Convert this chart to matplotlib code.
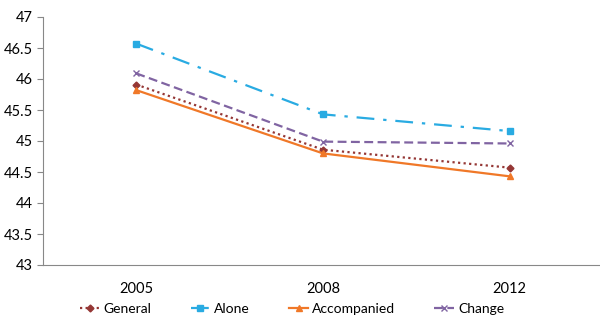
import matplotlib
matplotlib.use("Agg")
import matplotlib.pyplot as plt

years = ["2005", "2008", "2012"]
general = [45.91, 44.86, 44.57]
alone = [46.57, 45.43, 45.16]
accompanied = [45.82, 44.80, 44.43]
change = [46.09, 44.99, 44.96]

plt.rcParams['font.family'] = ['Lato', 'DejaVu Sans']

fig = plt.figure(figsize=(6.0, 3.22), dpi=100)
ax = fig.add_axes([43/600, 1-265/322, 560/600, (265-17)/322])
x = range(len(years))

ax.plot(x, general, color="#953735", linestyle=(0, (1, 1.5)), linewidth=1.6,
        marker="D", markersize=3.5, label="General")
ax.plot(x, alone, color="#29ABE2", linestyle=(0, (8, 4, 1.5, 4)), linewidth=1.6,
        marker="s", markersize=5, label="Alone")
ax.plot(x, accompanied, color="#F07828", linestyle="-", linewidth=1.6,
        marker="^", markersize=5, label="Accompanied")
ax.plot(x, change, color="#8064A2", linestyle=(0, (4, 2)), linewidth=1.6,
        marker="x", markersize=4, markeredgewidth=1, label="Change")

ax.set_xlim(-0.5, 2.5)
ax.set_ylim(43, 47)
ax.set_yticks([43, 43.5, 44, 44.5, 45, 45.5, 46, 46.5, 47])
ax.set_yticklabels(["43", "43.5", "44", "44.5", "45", "45.5", "46", "46.5", "47"])
ax.set_xticks(list(x))
ax.set_xticklabels(years)
ax.tick_params(axis='x', length=0, pad=12, labelsize=10.5)
ax.tick_params(axis='y', length=4, color="#888888", labelsize=10.5)
for s in ["top", "right"]:
    ax.spines[s].set_visible(False)
for s in ["left", "bottom"]:
    ax.spines[s].set_color("#888888")

fig.legend(loc="lower center", bbox_to_anchor=(0.487, -0.018), ncol=4, frameon=False,
           fontsize=10, handlelength=1.4, handletextpad=0.3, columnspacing=2.8)

fig.savefig("out.png", dpi=100)
